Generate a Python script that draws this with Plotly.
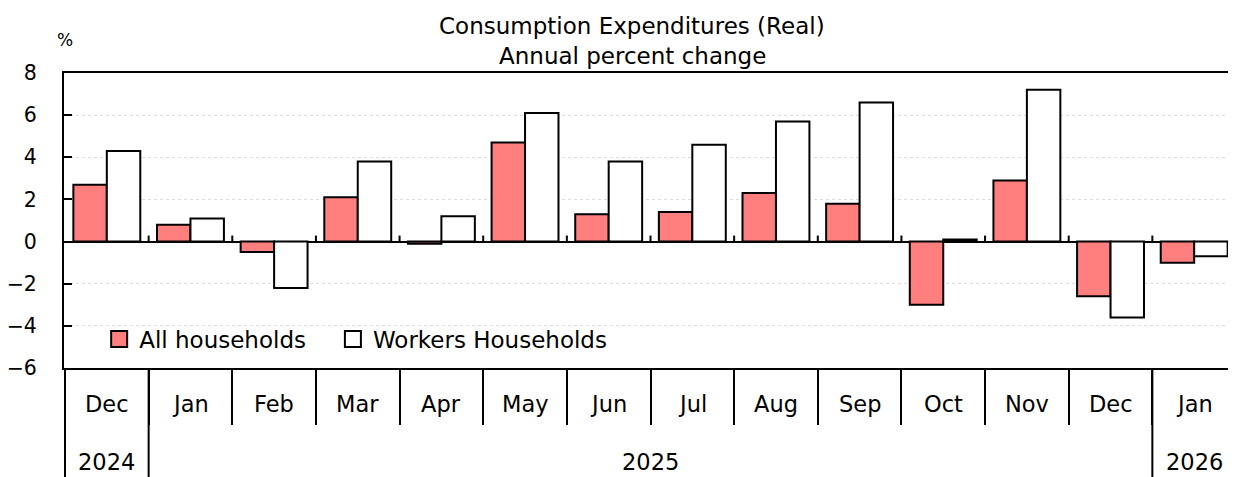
import plotly.graph_objects as go

# data
months = ["Dec", "Jan", "Feb", "Mar", "Apr", "May", "Jun",
          "Jul", "Aug", "Sep", "Oct", "Nov", "Dec", "Jan"]
years = ["2024", "2025", "2025", "2025", "2025", "2025", "2025",
         "2025", "2025", "2025", "2025", "2025", "2025", "2026"]
all_households = [2.7, 0.8, -0.5, 2.1, -0.1, 4.7, 1.3,
                  1.4, 2.3, 1.8, -3.0, 2.9, -2.6, -1.0]
workers_households = [4.3, 1.1, -2.2, 3.8, 1.2, 6.1, 3.8,
                      4.6, 5.7, 6.6, 0.1, 7.2, -3.6, -0.7]
year_labels = ["2024", "2025", "2026"]
y_ticks = [-6, -4, -2, 0, 2, 4, 6, 8]

FONT = "DejaVu Sans"
periods = [f"{m} {y}" for m, y in zip(months, years)]

# the page body has an 8px margin, so the figure sits 8px right/down
PLOT_L, PLOT_T, PLOT_W, PLOT_H = 64, 73, 1172, 295


def px_to_paper(sx, sy):
    return (sx - PLOT_L) / PLOT_W, (PLOT_T + PLOT_H - sy) / PLOT_H


series = [
    ("All households", all_households, "#FF7F7F"),
    ("Workers Households", workers_households, "white"),
]

fig = go.Figure()
for name, vals, color in series:
    fig.add_trace(go.Bar(
        x=periods, y=vals, name=name, showlegend=False, legendgroup=name,
        marker=dict(color=color, line=dict(color="black", width=2)),
    ))
# legend-only entries so the key squares come out bigger
for i, (name, vals, color) in enumerate(series):
    pad = "\u00a0" * 3 if i == 0 else ""
    fig.add_trace(go.Scatter(
        x=[None], y=[None], mode="markers", name=name + pad, legendgroup=name,
        marker=dict(symbol="square", size=16, color=color,
                    line=dict(color="black", width=2)),
    ))

shapes = []
# white box behind legend hides the gridline
shapes.append(dict(type="rect", layer="between", xref="paper", yref="y",
                   x0=0, x1=0.489, y0=-3.3, y1=-5.8,
                   fillcolor="white", line=dict(width=0)))
# little ticks on the zero line at month boundaries
for i in range(len(periods) - 1):
    shapes.append(dict(type="line", xref="x", yref="y", ysizemode="pixel",
                       yanchor=0, x0=i + 0.5, x1=i + 0.5, y0=0, y1=6,
                       line=dict(color="black", width=2)))
# year dividers and left edge down to the bottom
year_bounds = [i - 0.5 for i in range(1, len(years)) if years[i] != years[i - 1]]
for xb in [-0.5] + year_bounds:
    shapes.append(dict(type="line", xref="x", yref="paper", ysizemode="pixel",
                       yanchor=0, x0=xb, x1=xb, y0=0, y1=-112,
                       line=dict(color="black", width=2)))

annotations = []
for p, m in zip(periods, months):
    annotations.append(dict(x=p, y=0, xref="x", yref="paper", text=m,
                            showarrow=False, xanchor="center", yanchor="middle", yshift=-36,
                            font=dict(family=FONT, size=22.5, color="black")))
for yl in year_labels:
    idx = [i for i, y in enumerate(years) if y == yl]
    annotations.append(dict(x=(idx[0] + idx[-1]) / 2, y=0, xref="x", yref="paper",
                            text=yl, showarrow=False, xanchor="center", yanchor="middle", yshift=-94,
                            font=dict(family=FONT, size=22.5, color="black")))

top_texts = [
    ("Consumption Expenditures (Real)", 632, 26, 23),
    ("Annual percent change", 632, 56, 23),
    ("%", 65, 40, 17),
]
for text, sx, sy, size in top_texts:
    ax, ay = px_to_paper(sx, sy)
    annotations.append(dict(x=ax, y=ay, xref="paper", yref="paper", text=text,
                            showarrow=False, xanchor="center", yanchor="middle",
                            font=dict(family=FONT, size=size, color="black")))

fig.update_layout(
    width=1236, height=477,
    margin=dict(l=56, r=8, t=65, b=117),
    paper_bgcolor="white", plot_bgcolor="white",
    barmode="group", bargap=0.2, bargroupgap=0,
    font=dict(family=FONT, size=22, color="black"),
    showlegend=True,
    legend=dict(orientation="h", x=0.03, xanchor="left", y=0.098, yanchor="middle",
                bgcolor="rgba(0,0,0,0)", font=dict(family=FONT, size=23),
                traceorder="normal"),
    shapes=shapes,
    annotations=annotations,
)
fig.update_xaxes(
    type="category", categoryorder="array", categoryarray=periods,
    showticklabels=False, showgrid=False, automargin=False,
    ticks="outside", tickson="boundaries", ticklen=55, tickwidth=2, tickcolor="black",
    showline=True, linecolor="black", linewidth=2, mirror=True,
)
fig.update_yaxes(
    range=[-6, 8], tickvals=y_ticks, ticks="inside", ticklen=8, tickwidth=2,
    tickcolor="black", showline=True, linecolor="black", linewidth=2,
    showgrid=True, gridcolor="#dcdcdc", griddash="dot", gridwidth=1,
    zeroline=True, zerolinecolor="black", zerolinewidth=2, automargin=False,
    ticklabelstandoff=21, tickfont=dict(family=FONT, size=20.5),
)

fig.write_html("out.html")
